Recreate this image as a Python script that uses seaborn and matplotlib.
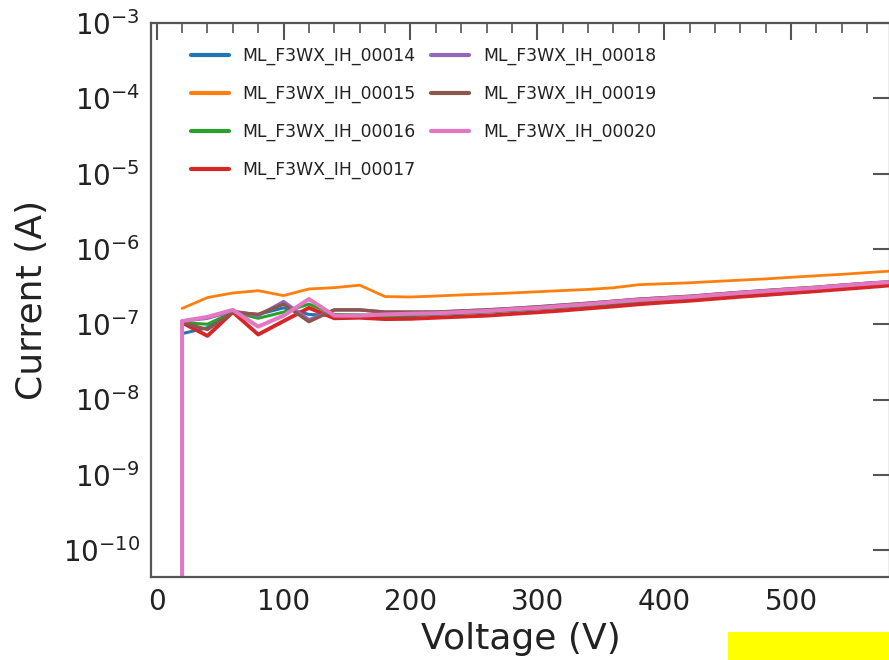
import numpy as np
import pandas as pd
import matplotlib
matplotlib.use("Agg")
import matplotlib.pyplot as plt
import seaborn as sns
from matplotlib.patches import Rectangle

sns.set_theme(style="white")
plt.rcParams['font.family'] = ['DejaVu Sans']

voltage = [20, 40, 60, 80, 100, 120, 140, 160, 180, 200, 220, 240, 260, 280, 300,
           320, 340, 360, 380, 400, 420, 440, 460, 480, 500, 520, 540, 560, 580]

series_names = ["ML_F3WX_IH_00014", "ML_F3WX_IH_00015", "ML_F3WX_IH_00016",
                "ML_F3WX_IH_00017", "ML_F3WX_IH_00018", "ML_F3WX_IH_00019",
                "ML_F3WX_IH_00020"]

i_00014 = [7.5e-8, 9.0e-8, 1.45e-7, 1.35e-7, 1.65e-7, 1.35e-7, 1.3e-7, 1.3e-7, 1.27e-7,
           1.3e-7, 1.35e-7, 1.4e-7, 1.45e-7, 1.52e-7, 1.6e-7, 1.68e-7, 1.78e-7, 1.88e-7,
           1.98e-7, 2.08e-7, 2.15e-7, 2.25e-7, 2.35e-7, 2.45e-7, 2.6e-7, 2.75e-7, 2.98e-7,
           3.2e-7, 3.4e-7]
i_00015 = [1.62e-7, 2.26e-7, 2.6e-7, 2.79e-7, 2.4e-7, 2.94e-7, 3.06e-7, 3.3e-7, 2.33e-7,
           2.3e-7, 2.37e-7, 2.45e-7, 2.52e-7, 2.6e-7, 2.7e-7, 2.8e-7, 2.9e-7, 3.05e-7,
           3.35e-7, 3.45e-7, 3.55e-7, 3.7e-7, 3.85e-7, 4.0e-7, 4.2e-7, 4.4e-7, 4.6e-7,
           4.85e-7, 5.1e-7]
i_00016 = [1.05e-7, 1.0e-7, 1.45e-7, 1.2e-7, 1.45e-7, 1.85e-7, 1.35e-7, 1.33e-7, 1.3e-7,
           1.33e-7, 1.37e-7, 1.42e-7, 1.47e-7, 1.54e-7, 1.62e-7, 1.7e-7, 1.8e-7, 1.92e-7,
           2.03e-7, 2.13e-7, 2.23e-7, 2.37e-7, 2.5e-7, 2.65e-7, 2.8e-7, 2.95e-7, 3.15e-7,
           3.35e-7, 3.55e-7]
i_00017 = [1.05e-7, 7.0e-8, 1.45e-7, 7.3e-8, 1.1e-7, 1.65e-7, 1.2e-7, 1.22e-7, 1.17e-7,
           1.18e-7, 1.22e-7, 1.26e-7, 1.3e-7, 1.37e-7, 1.44e-7, 1.52e-7, 1.62e-7, 1.72e-7,
           1.84e-7, 1.95e-7, 2.05e-7, 2.18e-7, 2.32e-7, 2.45e-7, 2.6e-7, 2.75e-7, 2.92e-7,
           3.1e-7, 3.3e-7]
i_00018 = [1.1e-7, 1.2e-7, 1.5e-7, 1.3e-7, 2.0e-7, 1.15e-7, 1.55e-7, 1.55e-7, 1.45e-7,
           1.45e-7, 1.45e-7, 1.5e-7, 1.55e-7, 1.62e-7, 1.7e-7, 1.8e-7, 1.9e-7, 2.02e-7,
           2.15e-7, 2.25e-7, 2.35e-7, 2.5e-7, 2.65e-7, 2.8e-7, 2.95e-7, 3.1e-7, 3.3e-7,
           3.5e-7, 3.7e-7]
i_00019 = [1.05e-7, 8.5e-8, 1.45e-7, 1.35e-7, 1.85e-7, 1.08e-7, 1.55e-7, 1.55e-7, 1.45e-7,
           1.45e-7, 1.45e-7, 1.5e-7, 1.55e-7, 1.62e-7, 1.7e-7, 1.8e-7, 1.9e-7, 2.02e-7,
           2.15e-7, 2.25e-7, 2.35e-7, 2.5e-7, 2.65e-7, 2.8e-7, 2.95e-7, 3.1e-7, 3.3e-7,
           3.5e-7, 3.65e-7]
i_00020 = [1.1e-7, 1.25e-7, 1.55e-7, 9.3e-8, 1.3e-7, 2.16e-7, 1.3e-7, 1.3e-7, 1.35e-7,
           1.38e-7, 1.4e-7, 1.45e-7, 1.5e-7, 1.58e-7, 1.65e-7, 1.75e-7, 1.85e-7, 1.98e-7,
           2.1e-7, 2.2e-7, 2.3e-7, 2.45e-7, 2.6e-7, 2.75e-7, 2.9e-7, 3.05e-7, 3.25e-7,
           3.45e-7, 3.65e-7]
# first reading of 00020 at 20 V, far below the plotted range
i_00020_first = 1e-13

all_series = [i_00014, i_00015, i_00016, i_00017, i_00018, i_00019, i_00020]

rows = []
for name, vals in zip(series_names, all_series):
    if name == "ML_F3WX_IH_00020":
        rows.append((name, voltage[0], i_00020_first))
    for v, c in zip(voltage, vals):
        rows.append((name, v, c))
df = pd.DataFrame(rows, columns=["device", "Voltage", "Current"])

fig = plt.figure(figsize=(8.89, 6.6), dpi=100)
ax = fig.add_axes([151 / 889, 1 - 577 / 660, (890 - 151) / 889, (577 - 23) / 660])

palette = sns.color_palette("tab10", 7)
sns.lineplot(data=df, x="Voltage", y="Current", hue="device", palette=palette,
             estimator=None, sort=False, linewidth=2.2, ax=ax)

widths = [2.2, 2.0, 2.2, 2.8, 2.4, 2.4, 2.9]
for line, w in zip(ax.lines[:7], widths):
    line.set_linewidth(w)

ax.set_yscale("log")
ax.set_ylim(4.4e-11, 1e-3)
ax.set_xlim(-4.5, 578)
ax.set_xticks([0, 100, 200, 300, 400, 500])
ax.set_xticks(np.arange(0, 580, 20), minor=True)
ax.yaxis.set_minor_locator(matplotlib.ticker.NullLocator())
ax.set_yticks([1e-10, 1e-9, 1e-8, 1e-7, 1e-6, 1e-5, 1e-4, 1e-3])

ax.tick_params(axis="both", which="major", direction="in", length=12, width=1.5,
               color="#555555", top=True, right=True, labelsize=20, labelcolor="#222222",
               pad=8)
ax.tick_params(axis="both", which="minor", direction="in", length=7, width=1.2,
               color="#555555", top=True, right=True)
for s in ax.spines.values():
    s.set_color("#555555")
    s.set_linewidth(1.6)

ax.set_xlabel("Voltage (V)", fontsize=26, color="#222222", labelpad=4)
ax.set_ylabel("Current (A)", fontsize=26, color="#222222", labelpad=10)

handles, labels = ax.get_legend_handles_labels()
for h in handles:
    h.set_linewidth(3.0)
ax.legend(handles, labels, ncol=2, frameon=False, fontsize=12.4,
          loc="upper left", bbox_to_anchor=(0.033, 0.985), handlelength=2.2,
          labelspacing=1.15, columnspacing=0.9, handletextpad=0.8,
          labelcolor="#222222")

fig.patches.append(Rectangle((728 / 889, 0), (889 - 728) / 889, 28 / 660,
                             transform=fig.transFigure, facecolor="#ffff00",
                             edgecolor="none", zorder=5))

fig.savefig("out.png", dpi=100)
